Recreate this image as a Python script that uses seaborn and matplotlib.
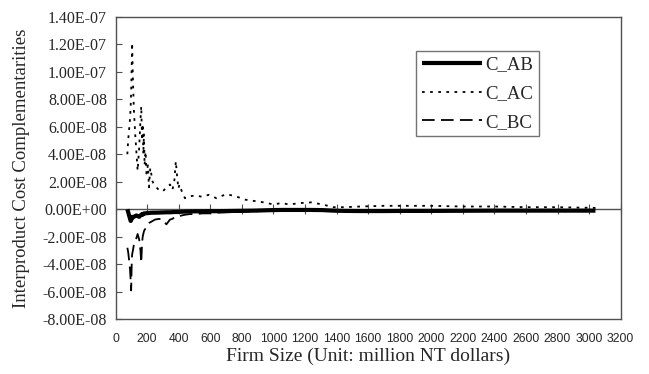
import matplotlib
matplotlib.use("Agg")
import matplotlib.pyplot as plt
import matplotlib.ticker as mticker
import numpy as np
import pandas as pd
import seaborn as sns

# ---- data (values in units of 1e-8) ----
firm_size = [75, 80, 86, 92, 96, 99, 101, 103, 105, 110, 116, 124, 132, 140, 150, 158, 163,
             168, 172, 176, 180, 184, 190, 196, 205, 212, 220, 235, 250, 275, 300, 322, 345,
             360, 372, 382, 390, 398, 405, 420, 440, 470, 510, 550, 590, 640, 700, 760, 820,
             880, 940, 1000, 1050, 1100, 1170, 1240, 1310, 1380, 1450, 1550, 1700, 1850, 2000,
             2200, 2400, 2600, 2800, 3040]
c_ab = [0.0, -0.2, -0.45, -0.7, -0.85, -0.8, -0.7, -0.6, -0.55, -0.6, -0.55, -0.5, -0.45,
        -0.5, -0.55, -0.45, -0.4, -0.35, -0.4, -0.35, -0.3, -0.3, -0.3, -0.28, -0.28, -0.27,
        -0.26, -0.25, -0.25, -0.24, -0.23, -0.22, -0.22, -0.21, -0.2, -0.2, -0.2, -0.2, -0.19,
        -0.18, -0.17, -0.16, -0.15, -0.15, -0.14, -0.14, -0.13, -0.12, -0.11, -0.1, -0.08,
        -0.06, -0.05, -0.05, -0.05, -0.05, -0.06, -0.1, -0.12, -0.13, -0.13, -0.12, -0.12,
        -0.11, -0.1, -0.1, -0.1, -0.1]
c_ac = [4.0, 5.0, 5.8, 6.6, 7.5, 8.5, 9.6, 10.8, 12.1, 9.5, 7.3, 5.6, 4.2, 2.8, 4.5, 6.5, 7.5,
        5.0, 6.2, 4.0, 5.5, 3.2, 4.2, 2.6, 3.2, 1.6, 3.0, 2.0, 1.7, 1.4, 1.3, 1.6, 1.8, 1.4,
        2.0, 3.5, 2.4, 1.5, 1.8, 1.3, 0.8, 0.95, 1.0, 0.9, 1.05, 0.8, 1.1, 0.95, 0.7, 0.6,
        0.5, 0.35, 0.45, 0.35, 0.45, 0.5, 0.35, 0.15, 0.15, 0.2, 0.25, 0.25, 0.25, 0.2, 0.2,
        0.15, 0.15, 0.1]
c_bc = [-2.8, -3.1, -3.7, -4.4, -5.2, -5.9, -4.8, -3.8, -3.3, -3.0, -2.6, -2.3, -2.1, -1.8,
        -2.2, -3.0, -3.9, -2.5, -2.0, -1.8, -1.6, -1.5, -1.4, -1.3, -1.1, -1.0, -0.95, -0.85,
        -0.75, -0.7, -0.75, -1.1, -0.75, -0.7, -0.6, -0.55, -0.55, -0.5, -0.5, -0.45, -0.4,
        -0.35, -0.35, -0.3, -0.3, -0.25, -0.22, -0.2, -0.18, -0.15, -0.12, -0.1, -0.1, -0.1,
        -0.1, -0.1, -0.1, -0.1, -0.1, -0.1, -0.1, -0.1, -0.1, -0.1, -0.1, -0.1, -0.1, -0.1]
series_names = ["C_AB", "C_AC", "C_BC"]

scale = 1e-8
df = pd.DataFrame({
    "size": firm_size,
    "C_AB": np.array(c_ab) * scale,
    "C_AC": np.array(c_ac) * scale,
    "C_BC": np.array(c_bc) * scale,
})

sns.set_style("white")
serif = ["Liberation Serif", "DejaVu Serif"]
sans = ["Liberation Sans", "DejaVu Sans"]
plt.rcParams["font.family"] = serif

fig = plt.figure(figsize=(6.49, 3.74), dpi=100)
ax = fig.add_axes([0.178, 0.1463, 0.9564 - 0.178, 0.9553 - 0.1463])

border = "#505050"
fs = 13.5

# zero axis line with Excel-style ticks
ax.axhline(0, color=border, linewidth=1.0, zorder=1)
sec = ax.secondary_xaxis(8 / 22)
sec.spines["bottom"].set_visible(False)
sec.set_xticks(np.arange(0, 3201, 200))
sec.tick_params(axis="x", direction="inout", length=7, width=0.8, color=border,
                labelbottom=False)

styles = {
    "C_AB": dict(linewidth=3.0, linestyle="-"),
    "C_AC": dict(linewidth=1.3, linestyle=(0, (1.5, 3.0))),
    "C_BC": dict(linewidth=1.3, linestyle=(0, (7, 3.5))),
}
for name in series_names:
    sns.lineplot(data=df, x="size", y=name, ax=ax, color="black", label=name,
                 estimator=None, sort=False, solid_capstyle="butt", zorder=3,
                 **styles[name])

ax.set_xlim(0, 3200)
ax.set_ylim(-8e-8, 1.4e-7)
ax.set_xticks(np.arange(0, 3201, 200))
ax.set_yticks(np.arange(-8e-8, 1.41e-7, 2e-8))
ax.yaxis.set_major_formatter(mticker.FuncFormatter(lambda v, p: f"{0 if abs(v) < 1e-12 else v:.2E}"))

for sp in ax.spines.values():
    sp.set_visible(True)
    sp.set_color(border)
    sp.set_linewidth(1.0)

ax.tick_params(axis="y", direction="in", length=4, width=0.8, color=border,
               labelsize=11.5, pad=6.2, left=True)
ax.tick_params(axis="x", length=0, labelsize=8.8, pad=10, bottom=False)
for lab in ax.get_xticklabels():
    lab.set_family(sans)

ax.set_xlabel("Firm Size (Unit: million NT dollars)", fontsize=14, labelpad=2)
ax.set_ylabel("Interproduct Cost Complementarities", fontsize=13.5, labelpad=9)

leg = ax.legend(loc="upper left", bbox_to_anchor=(0.595, 0.888), frameon=True,
                fancybox=False, fontsize=fs, handlelength=3.2, handletextpad=0.18,
                labelspacing=0.62, borderpad=0.3, borderaxespad=0)
leg.get_frame().set_edgecolor(border)
leg.get_frame().set_linewidth(1.0)

fig.savefig("out.png", dpi=100, facecolor="white")
